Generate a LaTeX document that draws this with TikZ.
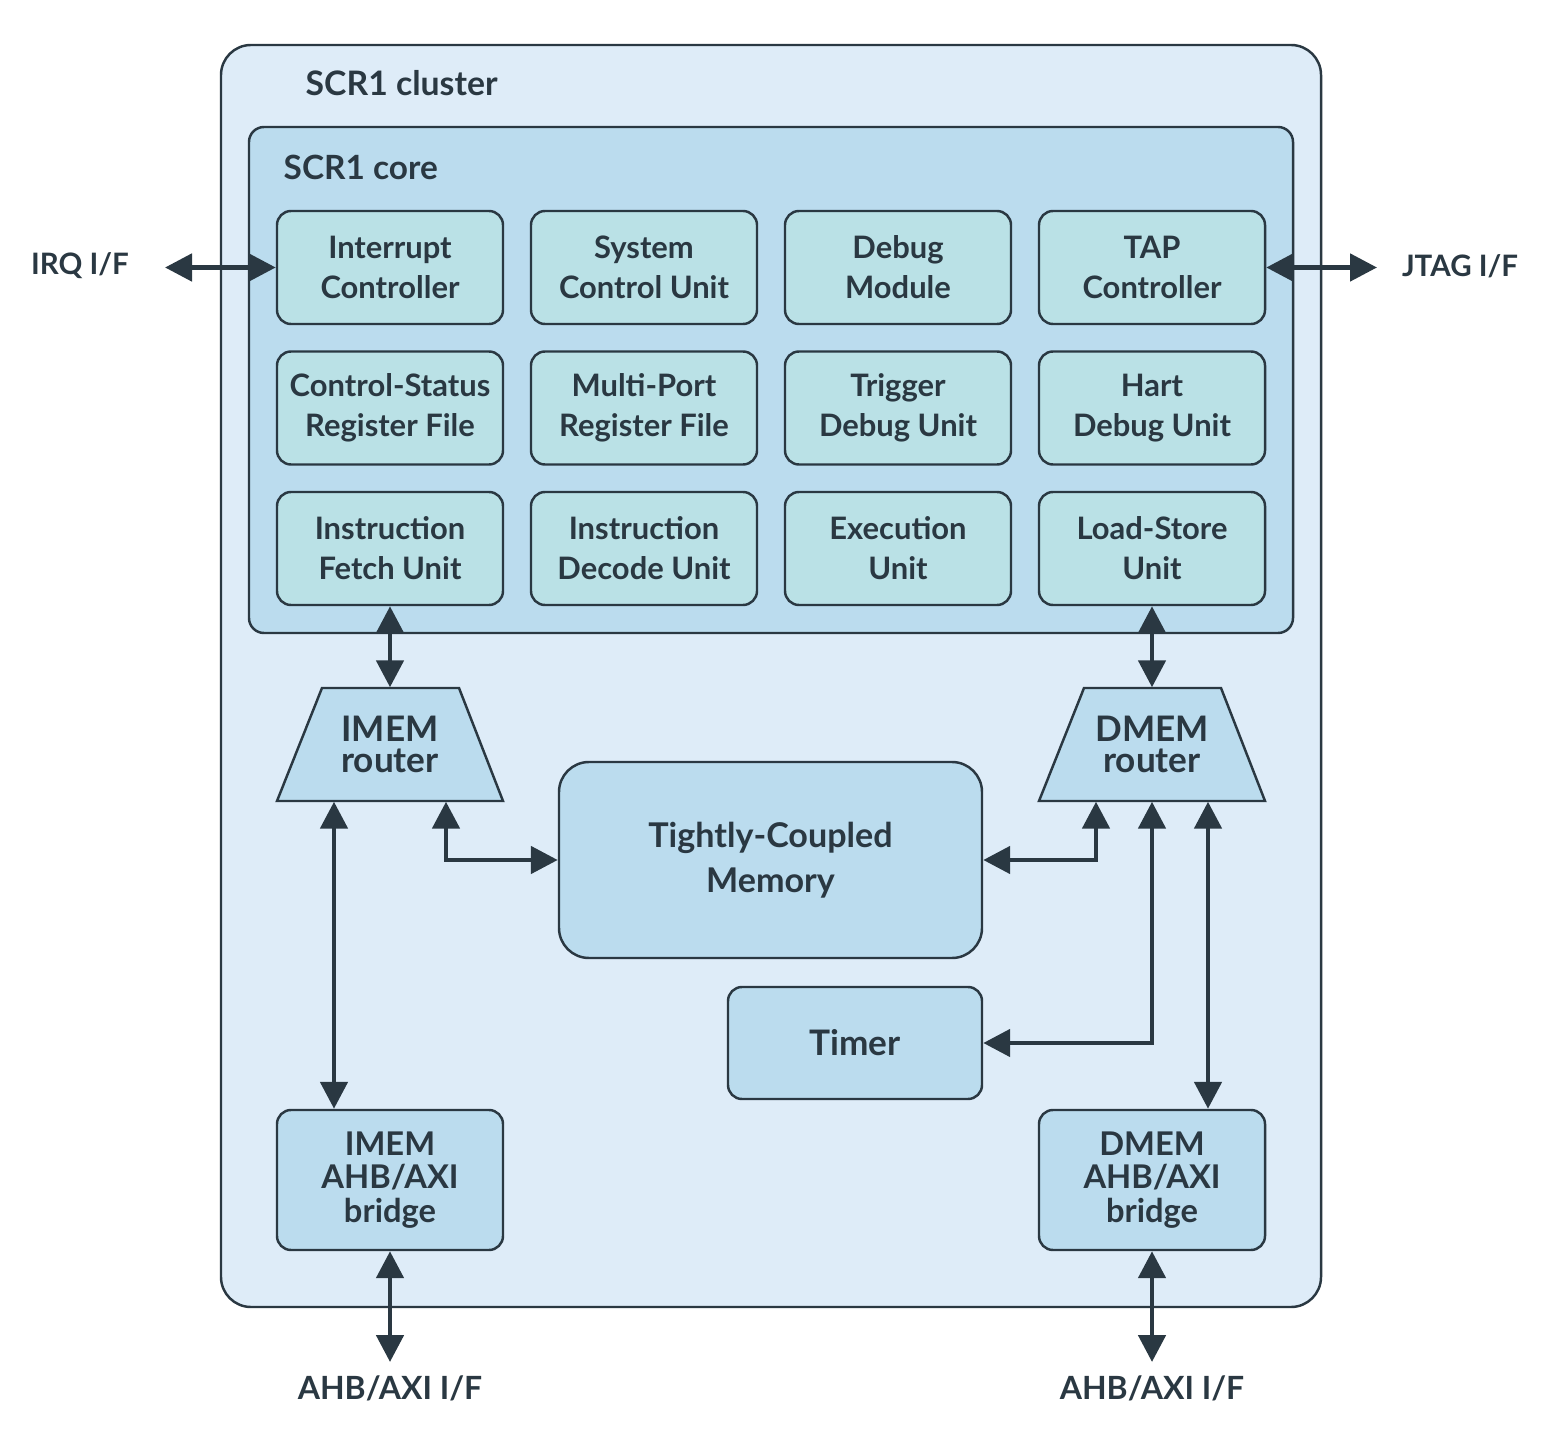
\documentclass[tikz,border=0pt]{standalone}
\usepackage{fontspec}
\setmainfont{Lato}
\usetikzlibrary{positioning,arrows.meta}
\definecolor{clusterfill}{RGB}{222,236,248}
\definecolor{corefill}{RGB}{187,220,238}
\definecolor{unitfill}{RGB}{186,225,230}
\definecolor{linecol}{RGB}{42,56,66}

\begin{document}
\begin{tikzpicture}
\tikzset{unit/.style={draw=linecol,line width=0.7pt,rounded corners=0.14cm,fill=#1,minimum width=2.26cm,minimum height=1.13cm,align=center,text=linecol,font=\fontsize{8.8}{11.4}\selectfont\bfseries},
  unit/.default=unitfill,
  router/.style={draw=linecol,line width=0.7pt,fill=corefill},
  routertext/.style={minimum width=2.26cm,minimum height=1.13cm,inner sep=0pt,align=center,text=linecol,font=\fontsize{10}{8.8}\selectfont\bfseries},
  biarrow/.style={draw=linecol,line width=1.4pt,{Triangle[width=0.27cm,length=0.27cm]}-{Triangle[width=0.27cm,length=0.27cm]}},
  label/.style={text=linecol,font=\fontsize{8.4}{10}\selectfont\bfseries}}
\useasboundingbox (0,0) rectangle (15.68,-14.56);
% Nodos
\node [draw=linecol, line width=0.7pt, rounded corners=0.3cm, fill=clusterfill, minimum width=11cm, minimum height=12.62cm] (cluster) at (7.71,-6.76) {};
\node [label, anchor=west, inner sep=0pt, font=\fontsize{9.6}{12}\selectfont\bfseries] at (3.05,-0.83) {SCR1 cluster};
\node [draw=linecol, line width=0.7pt, rounded corners=0.15cm, fill=corefill, minimum width=10.44cm, minimum height=5.06cm] (core) at (7.71,-3.80) {};
\node [label, anchor=west, inner sep=0pt, font=\fontsize{9.5}{12}\selectfont\bfseries] at (2.83,-1.67) {SCR1 core};
\node [unit] (intc) at (3.90,-2.675) {Interrupt\\Controller};
\node [unit] (scu) at (6.44,-2.675) {System\\Control Unit};
\node [unit] (dbg) at (8.98,-2.675) {Debug\\Module};
\node [unit] (tap) at (11.52,-2.675) {TAP\\Controller};
\node [unit] (csr) at (3.90,-4.08) {Control-Status\\Register File};
\node [unit] (mprf) at (6.44,-4.08) {Multi-Port\\Register File};
\node [unit] (tdu) at (8.98,-4.08) {Trigger\\Debug Unit};
\node [unit] (hdu) at (11.52,-4.08) {Hart\\Debug Unit};
\node [unit] (ifu) at (3.90,-5.485) {Instruction\\Fetch Unit};
\node [unit] (idu) at (6.44,-5.485) {Instruction\\Decode Unit};
\node [unit] (exu) at (8.98,-5.485) {Execution\\Unit};
\node [unit] (lsu) at (11.52,-5.485) {Load-Store\\Unit};
\path [router] (2.77,-8.01) -- (3.22,-6.88) -- (4.59,-6.88) -- (5.03,-8.01) -- cycle;
\node [routertext] (imem) at (3.90,-7.445) {IMEM\\router};
\path [router] (10.39,-8.01) -- (10.84,-6.88) -- (12.21,-6.88) -- (12.65,-8.01) -- cycle;
\node [routertext] (dmem) at (11.52,-7.445) {DMEM\\router};
\node [unit=corefill, rounded corners=0.3cm, minimum width=4.23cm, minimum height=1.96cm, font=\fontsize{9.7}{12.8}\selectfont\bfseries] (tcm) at (7.705,-8.60) {Tightly-Coupled\\Memory};
\node [unit=corefill, minimum width=2.54cm, minimum height=1.12cm, font=\fontsize{10}{12.8}\selectfont\bfseries] (timer) at (8.55,-10.43) {Timer};
\node [unit=corefill, minimum height=1.40cm, font=\fontsize{9.3}{9.5}\selectfont\bfseries] (imembr) at (3.90,-11.80) {IMEM\\AHB/AXI\\bridge};
\node [unit=corefill, minimum height=1.40cm, font=\fontsize{9.3}{9.5}\selectfont\bfseries] (dmembr) at (11.52,-11.80) {DMEM\\AHB/AXI\\bridge};
\node [label] (irq) at (0.80,-2.66) {IRQ I/F};
\node [label] (jtag) at (14.60,-2.66) {JTAG I/F};
\node [label, font=\fontsize{9.1}{11}\selectfont\bfseries] (iaxi) at (3.90,-13.88) {AHB/AXI I/F};
\node [label, font=\fontsize{9.1}{11}\selectfont\bfseries] (daxi) at (11.52,-13.88) {AHB/AXI I/F};
\coordinate (irqend) at (1.65,-2.675);
\coordinate (jtagend) at (13.77,-2.675);
\coordinate (iaxiend) at (3.90,-13.62);
\coordinate (daxiend) at (11.52,-13.62);
% Flechas
\draw [biarrow] (irqend) -- (intc.west);
\draw [biarrow] (tap.east) -- (jtagend);
\draw [biarrow] (ifu.south) -- (imem.north);
\draw [biarrow] (lsu.south) -- (dmem.north);
\draw [biarrow] ([xshift=-0.56cm]imem.south) -- ([xshift=-0.56cm]imembr.north);
\draw [biarrow] ([xshift=0.56cm]imem.south) |- (tcm.west);
\draw [biarrow] ([xshift=-0.56cm]dmem.south) |- (tcm.east);
\draw [biarrow] (dmem.south) |- (timer.east);
\draw [biarrow] ([xshift=0.56cm]dmem.south) -- ([xshift=0.56cm]dmembr.north);
\draw [biarrow] (imembr.south) -- (iaxiend);
\draw [biarrow] (dmembr.south) -- (daxiend);
\end{tikzpicture}
\end{document}
